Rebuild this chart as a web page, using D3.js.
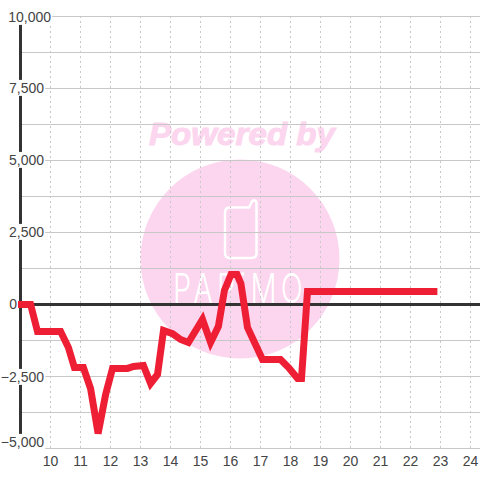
<!DOCTYPE html>
<html>
<head>
<meta charset="utf-8">
<script src="https://cdnjs.cloudflare.com/ajax/libs/d3/7.8.5/d3.min.js"></script>
<style>
  html, body { margin: 0; padding: 0; background: #fff; }
  svg { display: block; }
  text { font-family: "Liberation Sans", Arial, sans-serif; }
</style>
</head>
<body>
<div id="chart"></div>
<script>
// values
var hours = [8.9, 9.32, 9.55, 10.32, 10.58, 10.78, 11.08, 11.32, 11.57, 11.82, 12.05, 12.55, 12.75, 13.08, 13.32, 13.55, 13.75, 14.05, 14.32, 14.58, 15.05, 15.32, 15.58, 15.78, 16.0, 16.2, 16.33, 16.55, 17.05, 17.65, 17.92, 18.22, 18.35, 18.55, 22.88];
var values = [0, 0, -940, -940, -1490, -2190, -2190, -2920, -4480, -3125, -2220, -2220, -2150, -2120, -2740, -2430, -900, -1010, -1215, -1320, -520, -1320, -760, 490, 1040, 1040, 730, -800, -1910, -1910, -2190, -2570, -2570, 450, 450];
var yTicks = [-5000, -2500, 0, 2500, 5000, 7500, 10000];
var yGrid = [-3750, -1250, 1250, 3750, 6250, 8750];
var xTicks = [10, 11, 12, 13, 14, 15, 16, 17, 18, 19, 20, 21, 22, 23, 24];

var width = 480, height = 480;

// d3 axes add a half pixel to their ticks, so the ranges are whole numbers
var x = d3.scaleLinear().domain([9, 24.35]).range([20, 480.5]);
var y = d3.scaleLinear().domain([-5000, 10000]).range([448, 16]);

var svg = d3.select("#chart").append("svg")
    .attr("width", width)
    .attr("height", height);

// watermark sits behind the grid
var mark = svg.append("g");
mark.append("circle")
    .attr("cx", 240).attr("cy", 259).attr("r", 99.5)
    .style("fill", "#fcd5ee");
mark.append("text")
    .attr("x", 242).attr("y", 145)
    .attr("text-anchor", "middle")
    .attr("textLength", 186)
    .attr("lengthAdjust", "spacingAndGlyphs")
    .style("font-size", "32px")
    .style("font-weight", "bold")
    .style("font-style", "italic")
    .style("fill", "#fcd5ee")
    .style("stroke", "#fcd5ee")
    .style("stroke-width", 1)
    .text("Powered by");
mark.append("path")
    .attr("d", "M230,207.5 H249 L252,201.5 Q253,200 255,200.5 Q256.5,201 256.5,203 V253 Q256.5,258 251.5,258 H230 Q225,258 225,253 V212.5 Q225,207.5 230,207.5 Z")
    .style("fill", "none")
    .style("stroke", "#fff")
    .style("stroke-width", 2.5);
mark.append("text")
    .attr("x", 173).attr("y", 303)
    .attr("textLength", 134)
    .attr("lengthAdjust", "spacingAndGlyphs")
    .style("font-size", "41px")
    .style("letter-spacing", "6px")
    .style("font-family", "'Inter', 'Liberation Sans', sans-serif")
    .style("font-weight", 300)
    .style("fill", "#fff")
    .text("PAPiMO");

// vertical dashed grid
var gx = svg.append("g")
    .attr("transform", "translate(0," + y(-5000) + ")")
    .call(d3.axisBottom(x).tickValues(xTicks).tickSize(-432).tickFormat(d3.format("d")));
gx.select(".domain").remove();
gx.selectAll("line")
    .style("stroke", "#c8c8c8")
    .style("stroke-dasharray", "2,3");
gx.selectAll("text")
    .attr("y", 8)
    .attr("dy", "0.71em")
    .style("font-size", "14px")
    .style("fill", "#444");

// horizontal grid
var gy = svg.append("g")
    .attr("transform", "translate(20,0)")
    .call(d3.axisLeft(y).tickValues(yGrid.concat(yTicks)).tickSize(-460).tickFormat(""));
gy.select(".domain").remove();
gy.selectAll("line")
    .style("stroke", function (d) { return d === 0 ? "#333" : "#c8c8c8"; })
    .style("stroke-width", function (d) { return d === 0 ? 3 : 1; });

// left axis bar
svg.append("line")
    .attr("x1", 20.5).attr("x2", 20.5)
    .attr("y1", y(10000)).attr("y2", y(-5000))
    .style("stroke", "#333")
    .style("stroke-width", 3);

// y labels have a white box behind them that cuts the axis bar
var labels = svg.append("g").selectAll("g")
    .data(yTicks)
    .enter().append("g")
    .attr("transform", function (d) {
        var ly = y(d);
        if (d === 10000) ly += 1;
        if (d === -5000) ly -= 6;
        if (d === -2500) ly += 1;
        var lx = d === 10000 ? 51 : (d === 0 ? 17 : 44);
        return "translate(" + lx + "," + ly + ")";
    });
labels.append("text")
    .attr("text-anchor", "end")
    .attr("dy", "0.35em")
    .style("font-size", "14px")
    .style("fill", "#444")
    .text(function (d) { return d3.format(",")(d); });
labels.each(function () {
    var g = d3.select(this);
    var box = g.select("text").node().getBBox();
    g.insert("rect", "text")
        .attr("x", box.x - 1)
        .attr("y", box.y)
        .attr("width", box.width + 2)
        .attr("height", box.height)
        .style("fill", "#fff");
});

// the series
var line = d3.line()
    .x(function (d, i) { return x(hours[i]); })
    .y(function (d) { return y(d); });

svg.append("path")
    .attr("transform", "translate(1,0.5)")
    .attr("d", line(values))
    .style("fill", "none")
    .style("stroke", "#ee1f35")
    .style("stroke-width", 7);
</script>
</body>
</html>
